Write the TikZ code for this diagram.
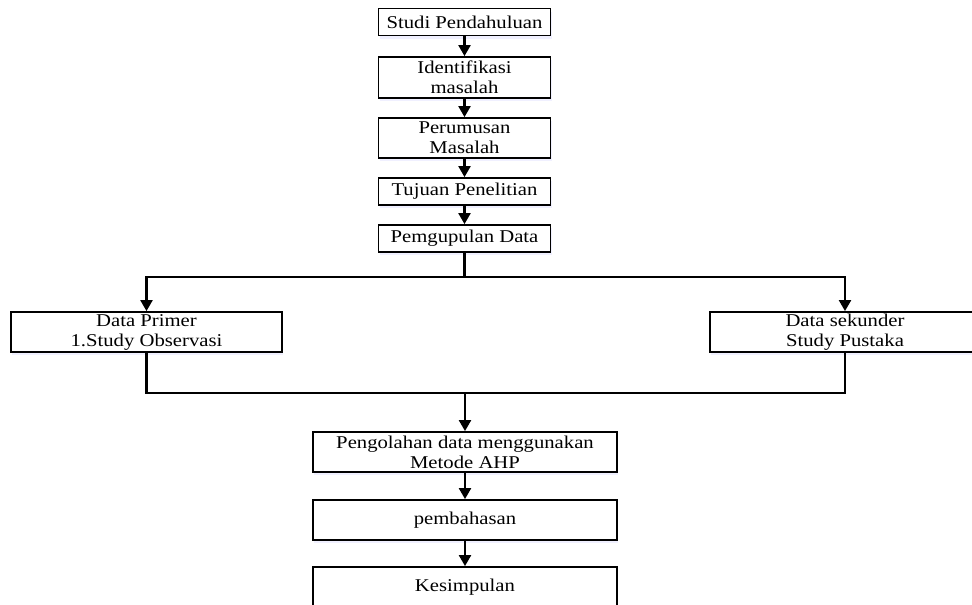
\documentclass[tikz,border=0pt]{standalone}
\usepackage{fontspec}
\setmainfont[FakeStretch=1.15]{Liberation Serif}
\usetikzlibrary{arrows.meta,shadows}
\begin{document}
\begin{tikzpicture}[x=1pt,y=-1pt,
  box/.style={draw=black,line width=1.8pt,fill=white,inner sep=0pt,align=center,
    font=\fontsize{18}{20}\selectfont,
    drop shadow={opacity=0.15,fill=blue!40,shadow xshift=1pt,shadow yshift=-3pt}},
  conn/.style={line width=2.2pt},
  arr/.style={conn,-{Triangle[width=12pt,length=11pt]}}]
\useasboundingbox (0,0) rectangle (972,605);
\clip (0,0) rectangle (972,605);
\node[box,minimum width=172pt,minimum height=27pt] (s1) at (464.5,22) {Studi Pendahuluan};
\node[box,minimum width=172pt,minimum height=41pt] (s2) at (464.5,77.5) {Identifikasi\\masalah};
\node[box,minimum width=172pt,minimum height=40pt] (s3) at (464.5,138) {Perumusan\\Masalah};
\node[box,minimum width=172pt,minimum height=27pt] (s4) at (464.5,191.5) {Tujuan Penelitian};
\node[box,minimum width=172pt,minimum height=27pt] (s5) at (464.5,238.5) {Pemgupulan Data};
\node[box,minimum width=271pt,minimum height=40pt] (dp) at (146.5,332) {Data Primer\\1.Study Observasi};
\node[box,minimum width=270pt,minimum height=40pt] (ds) at (845,332) {Data sekunder\\Study Pustaka};
\node[box,minimum width=304pt,minimum height=40pt] (pa) at (465,452) {Pengolahan data menggunakan\\Metode AHP};
\node[box,minimum width=304pt,minimum height=40pt] (pb) at (465,520) {pembahasan};
\node[box,minimum width=304pt,minimum height=40pt] (ks) at (465,587) {Kesimpulan};
\coordinate (jt) at (464.5,277);
\coordinate (jb) at (465,393);
\draw[arr] (s1) -- (s2);
\draw[arr] (s2) -- (s3);
\draw[arr] (s3) -- (s4);
\draw[arr] (s4) -- (s5);
\draw[conn] (s5.south) -- (jt);
\draw[arr] (jt) -| (dp.north);
\draw[arr] (jt) -| (ds.north);
\draw[conn] (dp.south) |- (jb);
\draw[conn] (ds.south) |- (jb);
\draw[arr] (jb) -- (pa.north);
\draw[arr] (pa) -- (pb);
\draw[arr] (pb) -- (ks);
\end{tikzpicture}
\end{document}
